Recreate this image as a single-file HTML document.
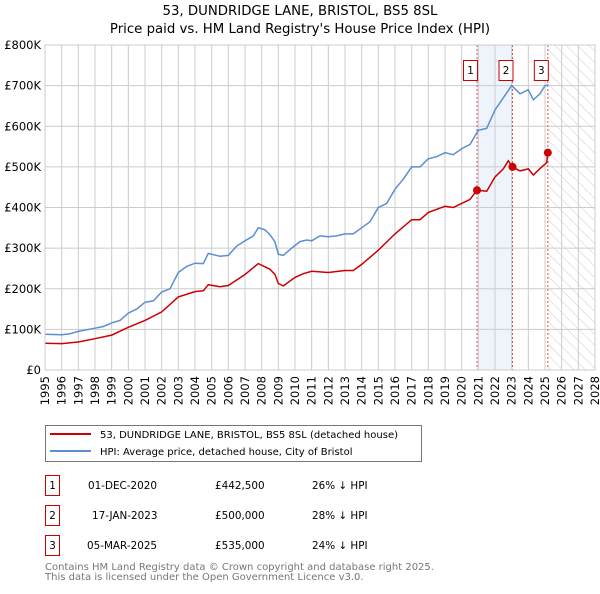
<!DOCTYPE html>
<html><head><meta charset="utf-8"><style>
body{margin:0;background:#fff;font-family:"DejaVu Sans","Liberation Sans",sans-serif;}
svg text{font-family:"DejaVu Sans","Liberation Sans",sans-serif;}
</style></head><body>
<svg id="c" width="600" height="590" xmlns="http://www.w3.org/2000/svg">
<defs><pattern id="hatch" width="8" height="8" patternUnits="userSpaceOnUse" patternTransform="rotate(-45)"><line x1="0" y1="0" x2="0" y2="8" stroke="#ccc" stroke-width="1"/></pattern></defs>
<text x="300" y="15" text-anchor="middle" font-size="13.3">53, DUNDRIDGE LANE, BRISTOL, BS5 8SL</text>
<text x="300" y="33" text-anchor="middle" font-size="13.3">Price paid vs. HM Land Registry's House Price Index (HPI)</text>
<g id="plot"></g>
<g>
<rect x="45.5" y="425.5" width="376" height="36" fill="#fff" stroke="#777"/>
<line x1="50" y1="434" x2="91" y2="434" stroke="#cc0000" stroke-width="2"/>
<text x="100" y="438" font-size="10">53, DUNDRIDGE LANE, BRISTOL, BS5 8SL (detached house)</text>
<line x1="50" y1="451" x2="91" y2="451" stroke="#5b8fd4" stroke-width="2"/>
<text x="100" y="455" font-size="10">HPI: Average price, detached house, City of Bristol</text>
</g>
<g font-size="10.4">
<rect x="45.5" y="475.5" width="14" height="20" fill="#fff" stroke="#cc0000"/><text x="52.5" y="489" text-anchor="middle">1</text>
<text x="88" y="489">01-DEC-2020</text><text x="215" y="489">£442,500</text><text x="312" y="489">26% ↓ HPI</text>
<rect x="45.5" y="505.5" width="14" height="20" fill="#fff" stroke="#cc0000"/><text x="52.5" y="519" text-anchor="middle">2</text>
<text x="92" y="519">17-JAN-2023</text><text x="215" y="519">£500,000</text><text x="312" y="519">28% ↓ HPI</text>
<rect x="45.5" y="535.5" width="14" height="20" fill="#fff" stroke="#cc0000"/><text x="52.5" y="549" text-anchor="middle">3</text>
<text x="87" y="549">05-MAR-2025</text><text x="215" y="549">£535,000</text><text x="312" y="549">24% ↓ HPI</text>
</g>
<text x="45" y="570" font-size="10" fill="#777">Contains HM Land Registry data © Crown copyright and database right 2025.</text>
<text x="45" y="580" font-size="10" fill="#777">This data is licensed under the Open Government Licence v3.0.</text>
</svg>
<script>
const yTicks=[0,100,200,300,400,500,600,700,800];
const yTickLabels=["£0","£100K","£200K","£300K","£400K","£500K","£600K","£700K","£800K"];
const xYears=[1995,1996,1997,1998,1999,2000,2001,2002,2003,2004,2005,2006,2007,2008,2009,2010,2011,2012,2013,2014,2015,2016,2017,2018,2019,2020,2021,2022,2023,2024,2025,2026,2027,2028];
const hpiT=[1995,1996,1996.5,1997,1998,1998.5,1999,1999.5,2000,2000.5,2001,2001.5,2002,2002.5,2003,2003.5,2004,2004.5,2004.8,2005.5,2006,2006.5,2007,2007.5,2007.8,2008.2,2008.5,2008.8,2009,2009.3,2009.8,2010.3,2010.7,2011,2011.5,2012,2012.5,2013,2013.5,2014,2014.5,2015,2015.5,2016,2016.5,2017,2017.5,2018,2018.5,2019,2019.5,2020,2020.5,2021,2021.5,2022,2022.5,2023,2023.5,2024,2024.3,2024.7,2025,2025.2];
const hpiV=[88,87,89,95,103,107,116,122,140,150,167,170,192,200,240,255,263,262,287,280,282,305,318,330,350,345,333,315,285,282,300,316,320,318,330,328,330,335,335,350,365,400,410,445,470,500,500,520,525,535,530,545,555,590,595,640,670,700,680,690,665,680,700,702];
const ppT=[1995,1996,1997,1998,1999,2000,2001,2002,2003,2004,2004.5,2004.8,2005.5,2006,2007,2007.8,2008.5,2008.8,2009,2009.3,2010,2010.5,2011,2012,2013,2013.5,2014,2015,2016,2017,2017.5,2018,2019,2019.5,2020,2020.5,2020.92,2021.5,2022,2022.5,2022.8,2023.05,2023.5,2024,2024.3,2024.8,2025.1,2025.17];
const ppV=[66,65,69,77,86,105,122,143,180,193,195,210,205,208,235,262,248,235,213,207,228,237,243,240,245,245,260,295,335,370,370,388,403,400,410,420,442.5,440,475,495,515,500,490,495,480,500,510,535];
const saleT=[2020.92,2023.05,2025.17];
const saleV=[442.5,500,535];
const saleLabels=["1","2","3"];
const X0=45,X1=595,Y0=370,Y1=45;
const x=t=>X0+(t-1995)/(2028-1995)*(X1-X0);
const y=v=>Y0-v/800*(Y0-Y1);
const NS="http://www.w3.org/2000/svg";
const g=document.getElementById('plot');
function mk(tag,a,p){const e=document.createElementNS(NS,tag);for(const k in a)e.setAttribute(k,a[k]);(p||g).appendChild(e);return e;}
let sh=mk('rect',{x:x(saleT[0]),y:Y1,width:x(saleT[1])-x(saleT[0]),height:Y0-Y1,fill:'#eef3fc'});


let ht=mk('rect',{x:x(saleT[2]),y:Y1,width:X1-x(saleT[2]),height:Y0-Y1,fill:'url(#hatch)'});


xYears.forEach(t=>{const l=mk('line',{x1:x(t),x2:x(t),y1:Y1,y2:Y0,stroke:'#ccc'});


const tx=mk('text',{x:0,y:0,'font-size':'11.5','text-anchor':'end',transform:`translate(${x(t)+4},${Y0+6}) rotate(-90)`});tx.textContent=t;

});
yTicks.forEach((v,i)=>{const l=mk('line',{x1:X0,x2:X1,y1:y(v),y2:y(v),stroke:'#ccc'});


const tx=mk('text',{x:41,y:y(v)+4,'font-size':'11.5','text-anchor':'end'});tx.textContent=yTickLabels[i];

});
saleT.forEach(t=>{const l=mk('line',{x1:x(t),x2:x(t),y1:Y1,y2:Y0,stroke:'#e05050','stroke-dasharray':'2,2'});

});
const pts=(T,V)=>T.map((t,i)=>x(t).toFixed(1)+','+y(V[i]).toFixed(1)).join(' ');
let hl=mk('polyline',{points:pts(hpiT,hpiV),fill:'none',stroke:'#5b8fd4','stroke-width':1.5});


let pl=mk('polyline',{points:pts(ppT,ppV),fill:'none',stroke:'#cc0000','stroke-width':1.5});


saleT.forEach((t,i)=>{const c=mk('circle',{cx:x(t),cy:y(saleV[i]),r:4,fill:'#cc0000'});


const r=mk('rect',{x:x(t)-13.5,y:60.5,width:14,height:20,fill:'#fff',stroke:'#cc0000'});


const tx=mk('text',{x:x(t)-6.5,y:74,'font-size':'10.4','text-anchor':'middle'});tx.textContent=saleLabels[i];

});
mk('rect',{x:X0,y:Y1,width:X1-X0,height:Y0-Y1,fill:'none',stroke:'#ccc'});
</script>
</body></html>
